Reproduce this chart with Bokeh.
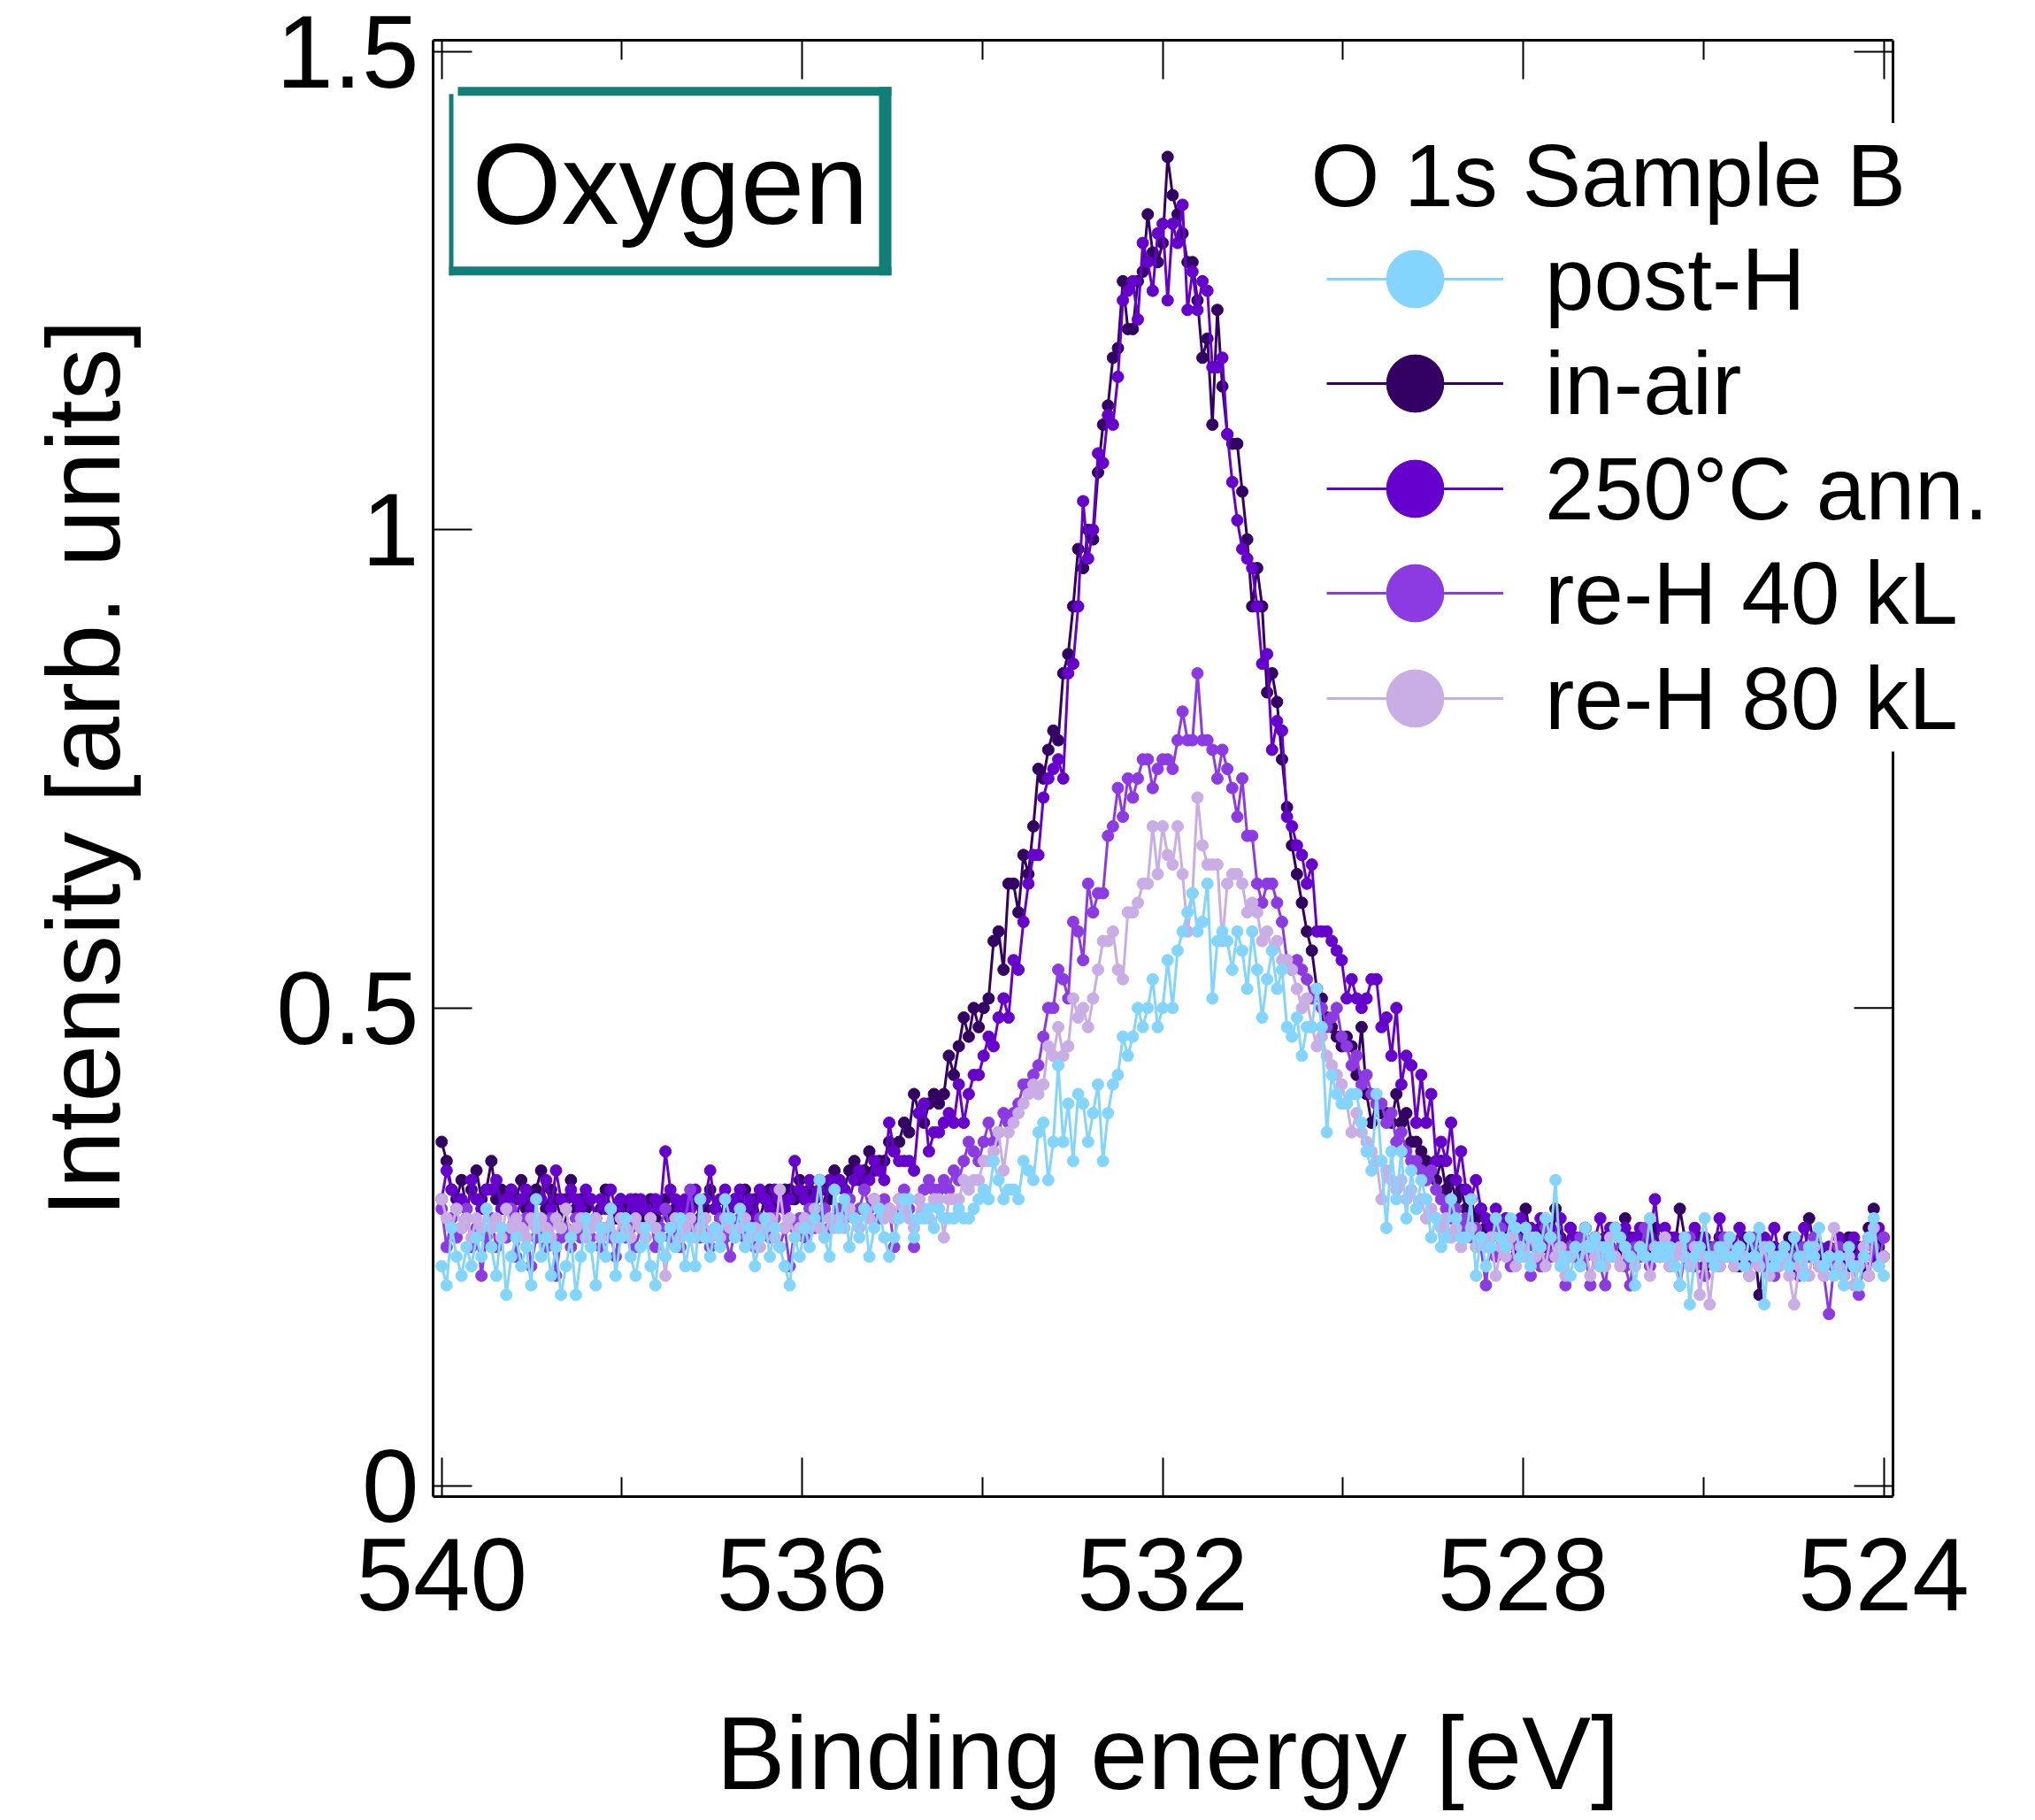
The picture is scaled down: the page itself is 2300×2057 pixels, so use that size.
import numpy as np
from bokeh.plotting import figure
from bokeh.models import (Range1d, LinearAxis, FixedTicker, Legend, LegendItem,
                          Label, BoxAnnotation, ColumnDataSource, Span)
from bokeh.embed import file_html
from bokeh.resources import INLINE

# ---------------- data ----------------
E_START, E_STOP = 540.0, 524.0   # binding-energy sweep (eV), equally spaced samples

in_air = [
    0.36, 0.34, 0.31, 0.30, 0.32, 0.29, 0.31, 0.33, 0.30, 0.31,
    0.34, 0.30, 0.31, 0.29, 0.31, 0.30, 0.32, 0.29, 0.30, 0.31,
    0.33, 0.29, 0.31, 0.30, 0.28, 0.30, 0.32, 0.29, 0.30, 0.29,
    0.30, 0.28, 0.29, 0.31, 0.29, 0.28, 0.30, 0.29, 0.28, 0.30,
    0.29, 0.28, 0.30, 0.28, 0.29, 0.30, 0.28, 0.29, 0.29, 0.28,
    0.29, 0.30, 0.28, 0.29, 0.31, 0.29, 0.28, 0.30, 0.29, 0.30,
    0.29, 0.31, 0.29, 0.30, 0.28, 0.30, 0.31, 0.29, 0.30, 0.31,
    0.31, 0.30, 0.32, 0.30, 0.31, 0.29, 0.32, 0.31, 0.30, 0.33,
    0.32, 0.31, 0.33, 0.34, 0.32, 0.33, 0.35, 0.33, 0.34, 0.34,
    0.36, 0.35, 0.36, 0.38, 0.37, 0.41, 0.39, 0.38, 0.40, 0.41,
    0.40, 0.41, 0.45, 0.43, 0.46, 0.49, 0.47, 0.50, 0.48, 0.50,
    0.51, 0.57, 0.58, 0.54, 0.63, 0.63, 0.60, 0.66, 0.64, 0.69,
    0.75, 0.74, 0.77, 0.79, 0.78, 0.85, 0.87, 0.92, 0.98, 0.96,
    1.00, 0.99, 1.06, 1.11, 1.13, 1.18, 1.19, 1.26, 1.21, 1.21,
    1.26, 1.27, 1.33, 1.29, 1.28, 1.30, 1.39, 1.35, 1.33, 1.31,
    1.28, 1.28, 1.24, 1.18, 1.20, 1.11, 1.23, 1.15, 1.10, 1.09,
    1.09, 1.04, 0.99, 0.92, 0.96, 0.92, 0.83, 0.85, 0.82, 0.76,
    0.71, 0.67, 0.64, 0.61, 0.58, 0.56, 0.52, 0.51, 0.49, 0.48,
    0.47, 0.46, 0.47, 0.46, 0.43, 0.48, 0.41, 0.38, 0.40, 0.39,
    0.39, 0.38, 0.41, 0.38, 0.39, 0.36, 0.36, 0.35, 0.34, 0.33,
    0.32, 0.34, 0.31, 0.32, 0.30, 0.31, 0.29, 0.30, 0.28, 0.29,
    0.27, 0.26, 0.28, 0.25, 0.27, 0.26, 0.24, 0.27, 0.29, 0.26,
    0.25, 0.27, 0.26, 0.24, 0.29, 0.26, 0.25, 0.27, 0.24, 0.26,
    0.27, 0.25, 0.26, 0.24, 0.26, 0.25, 0.27, 0.24, 0.28, 0.26,
    0.25, 0.24, 0.26, 0.25, 0.27, 0.24, 0.25, 0.26, 0.25, 0.29,
    0.26, 0.25, 0.24, 0.26, 0.23, 0.25, 0.24, 0.26, 0.25, 0.24,
    0.25, 0.23, 0.26, 0.24, 0.25, 0.20, 0.24, 0.23, 0.25, 0.24,
    0.24, 0.26, 0.23, 0.25, 0.24, 0.28, 0.25, 0.23, 0.24, 0.25,
    0.23, 0.25, 0.24, 0.26, 0.24, 0.25, 0.23, 0.27, 0.29, 0.25,
    0.24,
]

anneal_250 = [
    0.30, 0.33, 0.31, 0.29, 0.30, 0.28, 0.32, 0.30, 0.29, 0.31,
    0.31, 0.32, 0.29, 0.30, 0.31, 0.28, 0.30, 0.31, 0.29, 0.30,
    0.30, 0.32, 0.29, 0.33, 0.30, 0.29, 0.31, 0.30, 0.29, 0.31,
    0.30, 0.28, 0.30, 0.29, 0.31, 0.29, 0.30, 0.28, 0.30, 0.29,
    0.30, 0.29, 0.28, 0.30, 0.29, 0.35, 0.31, 0.30, 0.29, 0.30,
    0.29, 0.31, 0.28, 0.30, 0.33, 0.29, 0.30, 0.31, 0.29, 0.30,
    0.31, 0.29, 0.30, 0.28, 0.31, 0.30, 0.29, 0.31, 0.30, 0.29,
    0.30, 0.34, 0.31, 0.30, 0.32, 0.30, 0.31, 0.29, 0.32, 0.31,
    0.32, 0.31, 0.30, 0.32, 0.33, 0.31, 0.32, 0.34, 0.33, 0.32,
    0.38, 0.35, 0.34, 0.34, 0.34, 0.33, 0.39, 0.40, 0.35, 0.37,
    0.37, 0.38, 0.39, 0.38, 0.42, 0.38, 0.41, 0.43, 0.43, 0.45,
    0.47, 0.46, 0.49, 0.51, 0.49, 0.55, 0.54, 0.59, 0.63, 0.66,
    0.66, 0.72, 0.74, 0.75, 0.76, 0.74, 0.85, 0.86, 0.92, 1.03,
    0.97, 1.00, 1.08, 1.07, 1.12, 1.11, 1.16, 1.24, 1.25, 1.26,
    1.22, 1.30, 1.28, 1.25, 1.31, 1.32, 1.24, 1.32, 1.30, 1.34,
    1.23, 1.27, 1.23, 1.26, 1.25, 1.17, 1.17, 1.18, 1.10, 1.05,
    1.01, 0.98, 0.97, 0.96, 0.92, 0.86, 0.87, 0.77, 0.80, 0.79,
    0.70, 0.69, 0.67, 0.66, 0.63, 0.65, 0.58, 0.58, 0.58, 0.57,
    0.56, 0.55, 0.51, 0.53, 0.51, 0.50, 0.51, 0.53, 0.53, 0.48,
    0.49, 0.45, 0.50, 0.42, 0.45, 0.44, 0.38, 0.43, 0.38, 0.41,
    0.34, 0.36, 0.34, 0.38, 0.32, 0.35, 0.31, 0.30, 0.32, 0.29,
    0.28, 0.27, 0.29, 0.26, 0.28, 0.27, 0.25, 0.28, 0.26, 0.27,
    0.26, 0.28, 0.25, 0.27, 0.26, 0.28, 0.24, 0.27, 0.26, 0.25,
    0.27, 0.25, 0.26, 0.28, 0.25, 0.27, 0.24, 0.26, 0.27, 0.25,
    0.26, 0.27, 0.25, 0.26, 0.30, 0.25, 0.27, 0.24, 0.26, 0.25,
    0.26, 0.24, 0.27, 0.25, 0.26, 0.24, 0.25, 0.28, 0.25, 0.26,
    0.25, 0.27, 0.24, 0.26, 0.25, 0.23, 0.26, 0.25, 0.27, 0.24,
    0.25, 0.24, 0.26, 0.25, 0.27, 0.24, 0.26, 0.25, 0.23, 0.25,
    0.24, 0.26, 0.25, 0.23, 0.26, 0.24, 0.25, 0.26, 0.24, 0.27,
    0.26,
]

re_h_40 = [
    0.29, 0.25, 0.28, 0.26, 0.27, 0.29, 0.25, 0.27, 0.22, 0.26,
    0.28, 0.25, 0.27, 0.26, 0.29, 0.24, 0.27, 0.28, 0.23, 0.26,
    0.27, 0.25, 0.28, 0.22, 0.26, 0.27, 0.25, 0.28, 0.26, 0.27,
    0.26, 0.28, 0.25, 0.27, 0.26, 0.24, 0.28, 0.26, 0.27, 0.25,
    0.27, 0.26, 0.28, 0.25, 0.27, 0.29, 0.26, 0.27, 0.25, 0.28,
    0.31, 0.27, 0.26, 0.28, 0.25, 0.27, 0.28, 0.26, 0.24, 0.27,
    0.28, 0.26, 0.27, 0.25, 0.28, 0.27, 0.26, 0.28, 0.25, 0.27,
    0.23, 0.27, 0.28, 0.26, 0.29, 0.27, 0.28, 0.29, 0.27, 0.28,
    0.29, 0.28, 0.30, 0.28, 0.29, 0.31, 0.29, 0.30, 0.28, 0.30,
    0.29, 0.25, 0.30, 0.31, 0.29, 0.25, 0.30, 0.31, 0.32, 0.31,
    0.31, 0.32, 0.31, 0.33, 0.32, 0.34, 0.36, 0.35, 0.34, 0.36,
    0.38, 0.36, 0.37, 0.39, 0.38, 0.39, 0.40, 0.42, 0.42, 0.43,
    0.44, 0.47, 0.50, 0.50, 0.54, 0.53, 0.51, 0.59, 0.58, 0.55,
    0.63, 0.60, 0.62, 0.62, 0.68, 0.69, 0.73, 0.70, 0.74, 0.72,
    0.74, 0.76, 0.76, 0.73, 0.75, 0.76, 0.76, 0.75, 0.78, 0.81,
    0.78, 0.78, 0.85, 0.78, 0.78, 0.77, 0.74, 0.77, 0.75, 0.73,
    0.70, 0.74, 0.68, 0.68, 0.63, 0.61, 0.63, 0.63, 0.61, 0.59,
    0.55, 0.54, 0.55, 0.54, 0.53, 0.51, 0.52, 0.50, 0.48, 0.49,
    0.50, 0.47, 0.46, 0.44, 0.45, 0.42, 0.43, 0.41, 0.40, 0.40,
    0.38, 0.39, 0.36, 0.37, 0.35, 0.34, 0.34, 0.33, 0.32, 0.33,
    0.31, 0.30, 0.29, 0.28, 0.29, 0.27, 0.28, 0.26, 0.27, 0.25,
    0.21, 0.26, 0.24, 0.27, 0.25, 0.23, 0.26, 0.24, 0.25, 0.22,
    0.25, 0.23, 0.27, 0.24, 0.26, 0.24, 0.21, 0.25, 0.24, 0.26,
    0.24, 0.21, 0.25, 0.23, 0.21, 0.25, 0.24, 0.26, 0.23, 0.21,
    0.25, 0.24, 0.27, 0.23, 0.25, 0.24, 0.26, 0.23, 0.24, 0.21,
    0.24, 0.26, 0.23, 0.25, 0.22, 0.24, 0.25, 0.23, 0.26, 0.24,
    0.23, 0.25, 0.24, 0.22, 0.26, 0.24, 0.23, 0.25, 0.22, 0.24,
    0.25, 0.23, 0.24, 0.22, 0.25, 0.24, 0.26, 0.23, 0.22, 0.18,
    0.23, 0.25, 0.22, 0.24, 0.23, 0.20, 0.24, 0.22, 0.25, 0.23,
    0.26,
]

re_h_80 = [
    0.30, 0.28, 0.27, 0.29, 0.27, 0.28, 0.26, 0.28, 0.27, 0.29,
    0.27, 0.28, 0.26, 0.29, 0.27, 0.28, 0.27, 0.26, 0.28, 0.27,
    0.28, 0.27, 0.26, 0.28, 0.27, 0.29, 0.26, 0.27, 0.28, 0.26,
    0.27, 0.28, 0.26, 0.27, 0.29, 0.26, 0.28, 0.27, 0.26, 0.28,
    0.27, 0.26, 0.28, 0.27, 0.26, 0.22, 0.27, 0.28, 0.26, 0.27,
    0.28, 0.26, 0.27, 0.28, 0.26, 0.27, 0.26, 0.28, 0.27, 0.26,
    0.27, 0.28, 0.26, 0.27, 0.25, 0.27, 0.28, 0.26, 0.31, 0.27,
    0.28, 0.26, 0.27, 0.28, 0.27, 0.29, 0.27, 0.26, 0.28, 0.27,
    0.28, 0.27, 0.29, 0.28, 0.27, 0.29, 0.28, 0.30, 0.29, 0.28,
    0.29, 0.28, 0.30, 0.29, 0.28, 0.27, 0.30, 0.29, 0.28, 0.30,
    0.30, 0.26, 0.30, 0.30, 0.30, 0.32, 0.31, 0.32, 0.32, 0.34,
    0.34, 0.35, 0.37, 0.33, 0.37, 0.38, 0.39, 0.40, 0.41, 0.42,
    0.41, 0.42, 0.46, 0.45, 0.48, 0.45, 0.46, 0.51, 0.49, 0.50,
    0.48, 0.51, 0.54, 0.57, 0.57, 0.58, 0.54, 0.53, 0.60, 0.60,
    0.61, 0.63, 0.63, 0.69, 0.64, 0.69, 0.66, 0.65, 0.69, 0.64,
    0.58, 0.62, 0.72, 0.67, 0.65, 0.65, 0.65, 0.57, 0.63, 0.64,
    0.64, 0.63, 0.60, 0.61, 0.60, 0.57, 0.58, 0.56, 0.57, 0.55,
    0.55, 0.54, 0.52, 0.50, 0.51, 0.48, 0.46, 0.47, 0.45, 0.44,
    0.43, 0.42, 0.40, 0.37, 0.39, 0.37, 0.36, 0.35, 0.34, 0.30,
    0.33, 0.32, 0.31, 0.32, 0.30, 0.31, 0.29, 0.30, 0.28, 0.29,
    0.28, 0.27, 0.28, 0.26, 0.27, 0.25, 0.26, 0.27, 0.25, 0.26,
    0.25, 0.26, 0.22, 0.25, 0.24, 0.26, 0.23, 0.25, 0.24, 0.26,
    0.24, 0.25, 0.23, 0.26, 0.24, 0.25, 0.22, 0.24, 0.25, 0.23,
    0.25, 0.22, 0.24, 0.25, 0.23, 0.26, 0.24, 0.23, 0.25, 0.24,
    0.23, 0.25, 0.24, 0.22, 0.25, 0.24, 0.26, 0.23, 0.24, 0.25,
    0.24, 0.23, 0.25, 0.20, 0.24, 0.19, 0.24, 0.23, 0.25, 0.24,
    0.23, 0.25, 0.24, 0.22, 0.24, 0.23, 0.25, 0.22, 0.24, 0.23,
    0.24, 0.22, 0.19, 0.23, 0.24, 0.22, 0.25, 0.23, 0.22, 0.24,
    0.27, 0.23, 0.22, 0.24, 0.21, 0.23, 0.25, 0.22, 0.27, 0.23,
    0.24,
]

post_h = [
    0.23, 0.21, 0.27, 0.24, 0.22, 0.25, 0.23, 0.26, 0.24, 0.29,
    0.25, 0.22, 0.27, 0.20, 0.24, 0.26, 0.23, 0.25, 0.21, 0.30,
    0.24, 0.26, 0.22, 0.25, 0.20, 0.23, 0.26, 0.20, 0.24, 0.28,
    0.25, 0.21, 0.27, 0.24, 0.29, 0.22, 0.26, 0.28, 0.24, 0.22,
    0.25, 0.27, 0.23, 0.21, 0.26, 0.24, 0.27, 0.25, 0.28, 0.23,
    0.26, 0.23, 0.30, 0.26, 0.24, 0.27, 0.25, 0.30, 0.28, 0.26,
    0.29, 0.25, 0.27, 0.23, 0.26, 0.28, 0.24, 0.27, 0.25, 0.23,
    0.21, 0.26, 0.24, 0.27, 0.25, 0.28, 0.32, 0.26, 0.24, 0.31,
    0.27, 0.30, 0.25, 0.28, 0.26, 0.29, 0.24, 0.27, 0.29, 0.26,
    0.24, 0.26, 0.28, 0.30, 0.30, 0.26, 0.28, 0.28, 0.29, 0.27,
    0.29, 0.28, 0.28, 0.28, 0.29, 0.28, 0.28, 0.29, 0.30, 0.31,
    0.30, 0.34, 0.32, 0.30, 0.31, 0.31, 0.30, 0.34, 0.33, 0.32,
    0.37, 0.38, 0.32, 0.36, 0.44, 0.36, 0.40, 0.34, 0.41, 0.40,
    0.36, 0.39, 0.42, 0.34, 0.39, 0.42, 0.43, 0.47, 0.45, 0.47,
    0.50, 0.48, 0.50, 0.53, 0.48, 0.50, 0.55, 0.50, 0.56, 0.58,
    0.60, 0.62, 0.58, 0.59, 0.63, 0.51, 0.57, 0.58, 0.57, 0.54,
    0.58, 0.56, 0.52, 0.58, 0.54, 0.49, 0.53, 0.56, 0.52, 0.54,
    0.48, 0.47, 0.49, 0.45, 0.48, 0.48, 0.52, 0.48, 0.37, 0.43,
    0.41, 0.40, 0.40, 0.41, 0.41, 0.38, 0.35, 0.33, 0.41, 0.34,
    0.27, 0.35, 0.30, 0.35, 0.28, 0.33, 0.29, 0.32, 0.30, 0.26,
    0.28, 0.25, 0.26, 0.30, 0.28, 0.26, 0.26, 0.30, 0.22, 0.26,
    0.23, 0.25, 0.28, 0.26, 0.25, 0.28, 0.27, 0.24, 0.27, 0.23,
    0.26, 0.25, 0.28, 0.26, 0.32, 0.23, 0.24, 0.22, 0.25, 0.23,
    0.27, 0.25, 0.26, 0.23, 0.25, 0.24, 0.27, 0.26, 0.25, 0.24,
    0.21, 0.25, 0.24, 0.28, 0.24, 0.25, 0.24, 0.25, 0.23, 0.21,
    0.26, 0.19, 0.24, 0.25, 0.28, 0.24, 0.23, 0.25, 0.24, 0.26,
    0.24, 0.25, 0.23, 0.26, 0.24, 0.27, 0.19, 0.25, 0.23, 0.24,
    0.25, 0.23, 0.26, 0.24, 0.22, 0.25, 0.24, 0.27, 0.23, 0.24,
    0.22, 0.24, 0.21, 0.25, 0.23, 0.21, 0.24, 0.26, 0.28, 0.23,
    0.22,
]

series_labels = ["post-H", "in-air", "250°C ann.", "re-H 40 kL", "re-H 80 kL"]
legend_title = "O 1s Sample B"
panel_tag = "Oxygen"
x_axis_title = "Binding energy [eV]"
y_axis_title = "Intensity [arb. units]"
x_major_ticks = [540, 536, 532, 528, 524]
x_minor_ticks = [538, 534, 530, 526]
y_ticks = [0, 0.5, 1, 1.5]
y_tick_labels = ["0", "0.5", "1", "1.5"]

# ---------------- layout / styling ----------------
FONT = "Liberation Sans"
COLORS = {
    "post-H": "#84D5FD",
    "in-air": "#330063",
    "250°C ann.": "#6600CC",
    "re-H 40 kL": "#8C3BE3",
    "re-H 80 kL": "#C8AEE5",
}
TEAL = "#127E78"
NBSP = "\u00a0"

W, H = 2292, 2049
FR_L, FR_T, FR_B = 489, 45, 1699          # frame edges (px)
BOX_R = 2139                               # visible right edge of the axes box (px)
FR_R = 2280                                # drawing area extends under the legend
X_LEFT, X_BOX_R = 540.095, 523.897         # data values at FR_L and BOX_R
EV_PER_PX = (X_LEFT - X_BOX_R) / (BOX_R - FR_L)
X_END = X_BOX_R - (FR_R - BOX_R) * EV_PER_PX
Y_LO, Y_HI = -0.011, 1.512
I_PER_PX = (Y_HI - Y_LO) / (FR_B - FR_T)

def xd(px):   # pixel column -> data x
    return X_LEFT - (px - FR_L) * EV_PER_PX

def yd(py):   # pixel row -> data y
    return Y_HI - (py - FR_T) * I_PER_PX

energy = np.linspace(E_START, E_STOP, len(post_h))

p = figure(width=W, height=H, output_backend="svg", toolbar_location=None,
           x_range=Range1d(X_LEFT, X_END), y_range=Range1d(Y_LO, Y_HI),
           x_axis_location=None, y_axis_location=None,
           min_border_left=FR_L, min_border_right=W - FR_R,
           min_border_top=FR_T, min_border_bottom=H - FR_B,
           background_fill_color="white", border_fill_color="white")
p.grid.visible = False
p.outline_line_color = None

xt = FixedTicker(ticks=x_major_ticks, minor_ticks=x_minor_ticks)
yt = FixedTicker(ticks=y_ticks, minor_ticks=[])

common = dict(axis_line_width=3, axis_line_color="black",
              major_tick_in=44, major_tick_out=0, major_tick_line_width=2,
              major_tick_line_color="black",
              minor_tick_in=22, minor_tick_out=0, minor_tick_line_width=2,
              minor_tick_line_color="black",
              major_label_text_font=FONT, major_label_text_color="black",
              axis_label_text_font=FONT, axis_label_text_font_style="normal",
              axis_label_text_color="black")

xbounds = (X_BOX_R, X_LEFT)
# the label is centred on the whole drawing area, which runs on under the
# legend; trailing no-break spaces put it back under the visible box
bottom = LinearAxis(ticker=xt, axis_label=x_axis_title + NBSP * 4, bounds=xbounds,
                    major_label_text_font_size="116px", major_label_standoff=47,
                    axis_label_text_font_size="117px", axis_label_standoff=93,
                    **common)
top_common = dict(common)
top_common["major_label_text_color"] = None
top = LinearAxis(ticker=xt, bounds=xbounds, major_label_text_font_size="1px",
                 major_label_standoff=0, **top_common)
left = LinearAxis(ticker=yt, axis_label=y_axis_title,
                  major_label_overrides=dict(zip(y_ticks, y_tick_labels)),
                  major_label_text_font_size="116px", major_label_standoff=16,
                  axis_label_text_font_size="117px", axis_label_standoff=149,
                  **common)
p.add_layout(bottom, "below")
p.add_layout(left, "left")
p.add_layout(top, "above")

# right edge of the axes box with inward ticks
p.segment(x0=[X_BOX_R] * len(y_ticks), y0=y_ticks,
          x1=[X_BOX_R + 44 * EV_PER_PX] * len(y_ticks), y1=y_ticks,
          line_color="black", line_width=2)

values = {
    "post-H": post_h,
    "in-air": in_air,
    "250°C ann.": anneal_250,
    "re-H 40 kL": re_h_40,
    "re-H 80 kL": re_h_80,
}

renderers = {}
for name in ["in-air", "250°C ann.", "re-H 40 kL", "re-H 80 kL", "post-H"]:
    src = ColumnDataSource(dict(x=energy, y=values[name]))
    c = COLORS[name]
    lr = p.line("x", "y", source=src, line_color=c, line_width=3)
    sr = p.scatter("x", "y", source=src, marker="circle", size=13,
                   fill_color=c, line_color=c, line_width=1)
    renderers[name] = [lr, sr]

p.add_layout(Span(location=X_BOX_R, dimension="height", line_color="black",
                  line_width=3))

# white legend panel (it hides the right edge of the box, as in the original)
p.add_layout(BoxAnnotation(left=xd(1470), right=X_END, top=yd(139), bottom=yd(853),
                           fill_color="white", fill_alpha=1.0, line_color=None))

p.add_layout(Label(x=xd(1481), y=yd(237 - 39), text=legend_title, text_font=FONT,
                   text_font_size="100px", text_baseline="alphabetic",
                   text_align="left", text_color="black"))

row_centers = [323, 441, 560, 678, 797]
GLYPH_W, GLYPH_H = 200, 162
for name, yc in zip(series_labels, row_centers):
    lg = Legend(items=[LegendItem(label=name, renderers=renderers[name])],
                location=(1499 - FR_L, FR_B - (yc + GLYPH_H // 2)),
                label_text_font=FONT, label_text_font_size="100px",
                label_text_color="black",
                glyph_width=GLYPH_W, glyph_height=GLYPH_H, spacing=0,
                label_standoff=47, padding=0, margin=0,
                border_line_color=None, background_fill_alpha=0.0)
    p.add_layout(lg)

# "Oxygen" tag box (four teal strokes) and text
for l, r, t, b in [(xd(517), xd(1007), yd(98), yd(108)),
                   (xd(507), xd(1007), yd(302), yd(312)),
                   (xd(507), xd(512), yd(106), yd(312)),
                   (xd(993), xd(1007), yd(98), yd(312))]:
    p.add_layout(BoxAnnotation(left=l, right=r, top=t, bottom=b,
                               fill_color=TEAL, fill_alpha=1.0,
                               line_color=None))
p.add_layout(Label(x=xd(533), y=yd(255 - 47), text=panel_tag, text_font=FONT,
                   text_font_size="130px", text_baseline="alphabetic",
                   text_align="left", text_color="black"))

open("out.html", "w").write(file_html(p, INLINE))
